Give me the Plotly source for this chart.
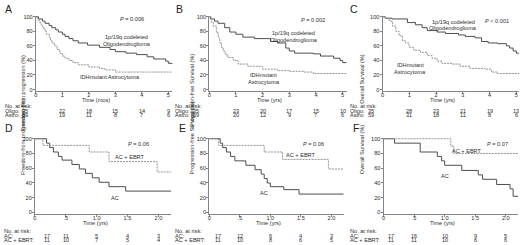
import plotly.graph_objects as go

# ---------------- data ----------------
# Panel A: freedom from progression (time in "mos" as labelled)
a_oligo_t = [0, 0.1, 0.25, 0.35, 0.5, 0.6, 0.75, 0.85, 1.0, 1.1, 1.25, 1.4, 1.6, 1.95, 2.4, 2.8, 3.0, 3.4, 3.8, 4.2, 4.45, 4.9, 5.0, 5.15]
a_oligo_s = [100, 97, 94, 91, 88, 85, 82, 79, 76, 73, 70, 67, 64, 61, 58, 55, 52, 50, 48, 45, 42, 39, 36, 35]
a_astro_t = [0, 0.05, 0.1, 0.15, 0.2, 0.25, 0.3, 0.35, 0.4, 0.5, 0.55, 0.6, 0.7, 0.8, 0.9, 1.0, 1.1, 1.25, 1.4, 1.6, 2.0, 2.4, 2.6, 3.0, 5.15]
a_astro_s = [100, 97, 95, 92, 89, 86, 83, 80, 76, 72, 68, 64, 60, 55, 50, 46, 43, 40, 37, 34, 31, 29, 27, 24, 24]

# Panel B: progression-free survival
b_oligo_t = [0, 0.05, 0.2, 0.33, 0.58, 0.77, 1.0, 1.26, 1.7, 2.3, 2.56, 2.87, 3.0, 3.2, 3.9, 4.17, 4.66, 4.9, 5.0, 5.15]
b_oligo_s = [100, 97, 94, 91, 85, 79, 76, 72, 70, 66, 64, 57, 53, 50, 49, 46, 43, 40, 37, 37]
b_astro_t = [0, 0.08, 0.15, 0.27, 0.34, 0.4, 0.46, 0.52, 0.6, 0.7, 0.9, 1.08, 1.45, 2.0, 2.56, 3.0, 3.55, 3.9, 5.15]
b_astro_s = [100, 93, 87, 78, 71, 64, 58, 53, 48, 44, 40, 35, 32, 28, 26, 25, 24, 22, 22]

# Panel C: overall survival
c_oligo_t = [0, 0.1, 0.35, 0.93, 1.23, 1.48, 1.67, 2.04, 2.35, 2.84, 3.09, 3.46, 3.7, 3.95, 4.3, 4.63, 4.75, 4.88, 5.0, 5.1]
c_oligo_s = [100, 98, 97, 92, 89, 85, 81, 79, 77, 75, 73, 71, 66, 64, 63, 60, 57, 53, 50, 50]
c_astro_t = [0, 0.12, 0.25, 0.37, 0.5, 0.62, 0.74, 0.86, 0.99, 1.17, 1.42, 1.67, 1.85, 2.04, 2.22, 2.6, 2.9, 3.27, 3.83, 4.07, 4.3, 5.1]
c_astro_s = [100, 98, 94, 87, 80, 74, 67, 64, 58, 54, 51, 47, 43, 39, 36, 35, 32, 29, 28, 24, 22, 22]

# Panel D: freedom from progression, AC vs AC + EBRT
d_ac_t = [0, 0.19, 0.24, 0.3, 0.38, 0.44, 0.6, 0.72, 0.82, 0.93, 1.04, 1.2, 1.47, 2.21]
d_ac_s = [100, 94, 88, 82, 76, 71, 65, 59, 53, 47, 41, 35, 29, 29]
d_eb_t = [0, 0.13, 0.88, 1.2, 1.98, 2.21]
d_eb_s = [100, 91, 82, 69, 55, 55]

# Panel E: progression-free survival, AC vs AC + EBRT
e_ac_t = [0, 0.18, 0.22, 0.28, 0.35, 0.42, 0.6, 0.75, 0.85, 0.9, 0.95, 1.0, 1.22, 1.47, 2.2]
e_ac_s = [100, 94, 88, 82, 76, 70, 64, 58, 52, 46, 40, 35, 31, 25, 25]
e_eb_t = [0, 0.15, 0.9, 1.2, 1.95, 2.2]
e_eb_s = [100, 91, 82, 72, 59, 59]

# Panel F: overall survival, AC vs AC + EBRT
f_ac_t = [0, 0.18, 0.6, 0.88, 0.95, 1.0, 1.28, 1.55, 1.62, 1.85, 2.07, 2.12, 2.2]
f_ac_s = [100, 94, 82, 76, 70, 64, 57, 51, 45, 38, 32, 22, 22]
f_eb_t = [0, 1.1, 1.15, 2.2]
f_eb_s = [100, 90, 80, 80]

# at-risk tables
top_risk_times = [0, 1, 2, 3, 4, 5]
a_risk_oligo = [35, 22, 18, 15, 14, 9]
a_risk_astro = [59, 19, 11, 8, 7, 6]
b_risk_oligo = [35, 23, 20, 17, 15, 10]
b_risk_astro = [59, 20, 12, 9, 7, 6]
c_risk_oligo = [35, 28, 23, 21, 19, 13]
c_risk_astro = [59, 31, 18, 11, 8, 6]
bot_risk_times = [0, 0.5, 1.0, 1.5, 2.0]
d_risk_ac = [17, 11, 5, 4, 3]
d_risk_eb = [11, 10, 7, 5, 4]
e_risk_ac = [17, 12, 6, 4, 3]
e_risk_eb = [11, 10, 8, 6, 5]
f_risk_ac = [17, 16, 10, 9, 5]
f_risk_eb = [11, 11, 10, 6, 6]

top_ticks = [0, 1, 2, 3, 4, 5]
top_ticktext = ["0", "1", "2", "3", "4", "5"]
bot_ticks = [0, 0.5, 1.0, 1.5, 2.0]
bot_ticktext = ["0", ".5", "1.0", "1.5", "2.0"]
y_ticks = [0, 20, 40, 60, 80, 100]

# ---------------- layout helpers ----------------
W, H = 520, 245
FONT = "Liberation Sans, Arial, sans-serif"
FS = 5.6
TXT = "#2e2e2e"
DARK = "#4e4e4e"
LIGHT = "#939393"
AXC = "#858585"
DOTS = "2px,1px"


def px(x):
    return x / W


def py(y):
    return 1 - y / H


# panel geometry in pixels: left px, right px, xmax, top(100%) px, zero px
panels = [
    dict(xl=34, xr=171, xmax=5.15, y100=15, y0=89, ytitle="Freedom-from progression (%)",
         xtitle="Time (mos)", ytx=17, ticks=top_ticks, ticktext=top_ticktext,
         curves=[(a_oligo_t, a_oligo_s, DARK, "solid"), (a_astro_t, a_astro_s, LIGHT, DOTS)]),
    dict(xl=208, xr=346, xmax=5.15, y100=15, y0=89, ytitle="Progression-free Survival (%)",
         xtitle="Time (yrs)", ytx=190, ticks=top_ticks, ticktext=top_ticktext,
         curves=[(b_oligo_t, b_oligo_s, DARK, "solid"), (b_astro_t, b_astro_s, LIGHT, DOTS)]),
    dict(xl=382, xr=519, xmax=5.1, y100=15, y0=89, ytitle="Overall Survival (%)",
         xtitle="Time (yrs)", ytx=366, ticks=top_ticks, ticktext=top_ticktext,
         curves=[(c_oligo_t, c_oligo_s, DARK, "solid"), (c_astro_t, c_astro_s, LIGHT, DOTS)]),
    dict(xl=33, xr=170, xmax=2.21, y100=139, y0=214, ytitle="Freedom-from progression (%)",
         xtitle="Time (yrs)", ytx=17, ticks=bot_ticks, ticktext=bot_ticktext,
         curves=[(d_ac_t, d_ac_s, DARK, "solid"), (d_eb_t, d_eb_s, LIGHT, DOTS)]),
    dict(xl=208, xr=343, xmax=2.2, y100=139, y0=214, ytitle="Progression-free Survival (%)",
         xtitle="Time (yrs)", ytx=191, ticks=bot_ticks, ticktext=bot_ticktext,
         curves=[(e_ac_t, e_ac_s, DARK, "solid"), (e_eb_t, e_eb_s, LIGHT, DOTS)]),
    dict(xl=383, xr=518, xmax=2.2, y100=139, y0=214, ytitle="Overall Survival (%)",
         xtitle="Time (yrs)", ytx=365, ticks=bot_ticks, ticktext=bot_ticktext,
         curves=[(f_ac_t, f_ac_s, DARK, "solid"), (f_eb_t, f_eb_s, LIGHT, DOTS)]),
]

fig = go.Figure()
annotations = []
YMIN, YMAX = -1.5, 101


def ann(x, y, text, size=FS, xref="paper", yref="paper", xanchor="center", color=TXT):
    annotations.append(dict(x=x, y=y, xref=xref, yref=yref, text=text, showarrow=False,
                            xanchor=xanchor, yanchor="middle", borderpad=0,
                            font=dict(family=FONT, size=size, color=color)))


for i, p in enumerate(panels):
    k = "" if i == 0 else str(i + 1)
    ppu = (p["y0"] - p["y100"]) / 100.0
    ybot = p["y0"] - YMIN * ppu
    ytop = p["y0"] - YMAX * ppu
    for t, s, col, dash in p["curves"]:
        fig.add_trace(go.Scatter(x=t, y=s, mode="lines", line=dict(color=col, width=1, dash=dash, shape="hv"),
                                 xaxis="x" + k, yaxis="y" + k, showlegend=False, hoverinfo="skip"))
    fig.layout["xaxis" + k] = dict(domain=[px(p["xl"]), px(p["xr"])], range=[0, p["xmax"]], anchor="y" + k,
                                   tickvals=p["ticks"], ticktext=p["ticktext"], showline=True, linecolor=AXC,
                                   linewidth=1, ticks="outside", ticklen=2, tickcolor=AXC, showgrid=False,
                                   zeroline=False, ticklabelstandoff=-3,
                                   tickfont=dict(family=FONT, size=FS, color=TXT))
    fig.layout["yaxis" + k] = dict(domain=[py(ybot), py(ytop)], range=[YMIN, YMAX], anchor="x" + k,
                                   tickvals=y_ticks, showline=True, linecolor=AXC, linewidth=1,
                                   ticks="outside", ticklen=2, tickcolor=AXC, showgrid=False, zeroline=False,
                                   ticklabelstandoff=-1,
                                   tickfont=dict(family=FONT, size=FS, color=TXT))
    # y title
    annotations.append(dict(x=px(p["ytx"]), y=py((p["y0"] + p["y100"]) / 2), xref="paper", yref="paper",
                            text=p["ytitle"], textangle=-90, showarrow=False, borderpad=0,
                            font=dict(family=FONT, size=FS, color=TXT)))
    # x title
    ann(px((p["xl"] + p["xr"]) / 2 - 8), py(p["y0"] + 11), p["xtitle"])

# panel letters
for letter, (lx, ly) in zip("ABCDEF", [(7, 7), (178, 7), (353, 7), (7, 128), (181, 128), (355, 128)]):
    ann(px(lx), py(ly), letter, size=10.5, color="#222")

# curve labels
ann(px(130), py(17), "<i>P</i> = 0.006")
ann(px(125), py(36), "1p/19q codeleted")
ann(px(125), py(43), "Oligodendroglioma")
ann(px(108), py(76), "IDHmutant Astrocytoma")

ann(px(312), py(18), "<i>P</i> = 0.002")
ann(px(293), py(32), "1p/19q codeleted")
ann(px(293), py(39), "Oligodendroglioma")
ann(px(263), py(74), "IDHmutant")
ann(px(263), py(81), "Astrocytoma")

ann(px(497), py(19), "<i>P</i> < 0.001")
ann(px(453), py(20), "1p/19q codeleted")
ann(px(453), py(26), "Oligodendroglioma")
ann(px(410), py(64), "IDHmutant")
ann(px(410), py(71), "Astrocytoma")

ann(px(137), py(144), "<i>P</i> = 0.06")
ann(px(128), py(158), "AC + EBRT")
ann(px(113), py(199), "AC")

ann(px(313), py(144), "<i>P</i> = 0.06")
ann(px(300), py(156), "AC + EBRT")
ann(px(263), py(194), "AC")

ann(px(497), py(144), "<i>P</i> = 0.07")
ann(px(467), py(151), "AC + EBRT")
ann(px(445), py(177), "AC")

# at-risk tables
top_tables = [
    (0, 2, 23, a_risk_oligo, a_risk_astro),
    (1, 173, 195, b_risk_oligo, b_risk_astro),
    (2, 348, 370, c_risk_oligo, c_risk_astro),
]
for idx, xl, first_x, r1, r2 in top_tables:
    k = "" if idx == 0 else str(idx + 1)
    ann(px(xl), py(106), "No. at risk:", xanchor="left")
    ann(px(xl), py(110.5), "Oligo:", xanchor="left")
    ann(px(xl), py(115), "Astro:", xanchor="left")
    for j, (t, v1, v2) in enumerate(zip(top_risk_times, r1, r2)):
        if j == 0:
            ann(px(first_x), py(110.5), str(v1))
            ann(px(first_x), py(115), str(v2))
        else:
            ann(t, py(110.5), str(v1), xref="x" + k)
            ann(t, py(115), str(v2), xref="x" + k)

bot_tables = [
    (3, 1, 45, d_risk_ac, d_risk_eb),
    (4, 173, 217, e_risk_ac, e_risk_eb),
    (5, 348, 390, f_risk_ac, f_risk_eb),
]
for idx, xl, first_x, r1, r2 in bot_tables:
    k = str(idx + 1)
    ann(px(xl), py(233), "No. at risk:", xanchor="left")
    ann(px(xl), py(237.5), "AC:", xanchor="left")
    ann(px(xl), py(242), "AC + EBRT:", xanchor="left")
    for j, (t, v1, v2) in enumerate(zip(bot_risk_times, r1, r2)):
        if j == 0:
            ann(px(first_x), py(237.5), str(v1))
            ann(px(first_x), py(242), str(v2))
        else:
            ann(t, py(237.5), str(v1), xref="x" + k)
            ann(t, py(242), str(v2), xref="x" + k)

fig.update_layout(width=W, height=H, margin=dict(l=0, r=0, t=0, b=0), paper_bgcolor="white",
                  plot_bgcolor="white", annotations=annotations, showlegend=False,
                  font=dict(family=FONT, size=FS, color=TXT))
fig.write_html("out.html", config={"displayModeBar": False},
               post_script="document.body.style.margin='0';document.body.style.padding='0';")
